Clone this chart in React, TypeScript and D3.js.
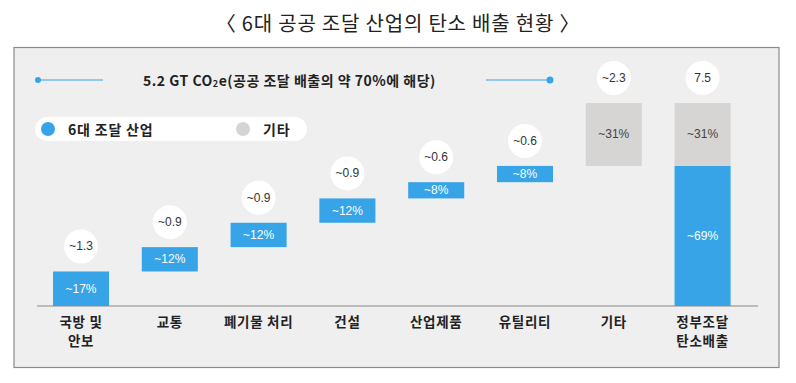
import React from "react";
import * as d3 from "d3";

const categories = ["국방 및\n안보", "교통", "폐기물 처리", "건설", "산업제품", "유틸리티", "기타", "정부조달\n탄소배출"];
const sharePct = [17, 12, 12, 12, 8, 8, 31];
const totalSplit = [69, 31];
const emissionLabels = ["~1.3", "~0.9", "~0.9", "~0.9", "~0.6", "~0.6", "~2.3", "7.5"];
const pctLabels = ["~17%", "~12%", "~12%", "~12%", "~8%", "~8%", "~31%"];
const totalPctLabels = ["~69%", "~31%"];
const legendItems = ["6대 조달 산업", "기타"];
const title = "〈 6대 공공 조달 산업의 탄소 배출 현황 〉";

const BLUE = "#36a4e6";
const GRAY = "#d6d5d4";
const KR = "'Noto Sans CJK KR', 'Noto Sans', sans-serif";
const LAT = "'Liberation Sans', Arial, sans-serif";

export default function App() {
  const W = 796, H = 383;
  const x = d3.scaleBand<string>().domain(categories).range([53, 730.6]).paddingInner(0.369).paddingOuter(0);
  const y = d3.scaleLinear().domain([0, 100]).range([306, 103]);
  const bw = x.bandwidth();

  let cum = 0;
  const segs = sharePct.map((v, i) => {
    const s = { i, y0: cum, y1: cum + v, v, blue: i < 6 };
    cum += v;
    return s;
  });
  const totalSegs = [
    { y0: 0, y1: totalSplit[0], blue: true, label: totalPctLabels[0] },
    { y0: totalSplit[0], y1: totalSplit[0] + totalSplit[1], blue: false, label: totalPctLabels[1] },
  ];
  const tops = [...segs.map((s) => s.y1), totalSplit[0] + totalSplit[1]];

  return (
    <svg width={W} height={H} style={{ position: "absolute", left: 0, top: 0, background: "#fff" }}>
      <text x={398} y={22} textAnchor="middle" dominantBaseline="central" fontFamily={KR} fontSize={20} letterSpacing={0.8} fill="#222">
        {title}
      </text>
      <rect x={14} y={47.5} width={765} height={320} fill="#efefef" stroke="#8a8a8a" strokeWidth={1.2} />

      <line x1={38} x2={103} y1={80} y2={80} stroke={BLUE} strokeWidth={1} />
      <circle cx={38} cy={80} r={3} fill={BLUE} />
      <line x1={486} x2={550} y1={80} y2={80} stroke={BLUE} strokeWidth={1} />
      <circle cx={550} cy={80} r={3.5} fill={BLUE} />
      <text x={143} y={80} dominantBaseline="central" fontFamily={KR} fontWeight={700} fontSize={14} letterSpacing={0.5} fill="#222">
        5.2 GT CO<tspan fontSize={9} dy={3}>2</tspan><tspan dy={-3}>e(공공 조달 배출의 약 70%에 해당)</tspan>
      </text>

      <rect x={35} y={117} width={272} height={24} rx={12} fill="#fff" />
      <circle cx={48} cy={129} r={7} fill={BLUE} />
      <text x={68} y={129} dominantBaseline="central" fontFamily={KR} fontWeight={700} fontSize={14} letterSpacing={0.8} fill="#222">{legendItems[0]}</text>
      <circle cx={243} cy={129} r={7} fill={GRAY} />
      <text x={263} y={129} dominantBaseline="central" fontFamily={KR} fontWeight={700} fontSize={14} letterSpacing={0.8} fill="#222">{legendItems[1]}</text>

      {segs.map((s) => {
        const c = categories[s.i];
        return (
          <g key={c}>
            <rect x={x(c)} y={y(s.y1)} width={bw} height={y(s.y0) - y(s.y1)} fill={s.blue ? BLUE : GRAY} />
            <text x={(x(c) as number) + bw / 2} y={(y(s.y0) + y(s.y1)) / 2} textAnchor="middle" dominantBaseline="central"
              fontFamily={LAT} fontSize={12} fill={s.blue ? "#fff" : "#444"}>{pctLabels[s.i]}</text>
          </g>
        );
      })}
      {totalSegs.map((s, k) => {
        const c = categories[7];
        return (
          <g key={"t" + k}>
            <rect x={x(c)} y={y(s.y1)} width={bw} height={y(s.y0) - y(s.y1)} fill={s.blue ? BLUE : GRAY} />
            <text x={(x(c) as number) + bw / 2} y={(y(s.y0) + y(s.y1)) / 2} textAnchor="middle" dominantBaseline="central"
              fontFamily={LAT} fontSize={12} fill={s.blue ? "#fff" : "#444"}>{s.label}</text>
          </g>
        );
      })}

      {categories.map((c, i) => {
        const cx = (x(c) as number) + bw / 2;
        const cy = y(tops[i]) - 25;
        return (
          <g key={"b" + i}>
            <circle cx={cx} cy={cy} r={17} fill="#fff" />
            <text x={cx} y={cy} textAnchor="middle" dominantBaseline="central" fontFamily={LAT} fontSize={12} fill="#333">{emissionLabels[i]}</text>
          </g>
        );
      })}

      <line x1={37} x2={758} y1={306} y2={306} stroke="#8a8a8a" strokeWidth={1.2} />

      {categories.map((c) => {
        const cx = (x(c) as number) + bw / 2;
        return c.split("\n").map((line, j) => (
          <text key={"l" + c + j} x={cx} y={321 + j * 19} textAnchor="middle" dominantBaseline="central"
            fontFamily={KR} fontWeight={700} fontSize={13.5} letterSpacing={0.7} fill="#222">{line}</text>
        ));
      })}
    </svg>
  );
}
